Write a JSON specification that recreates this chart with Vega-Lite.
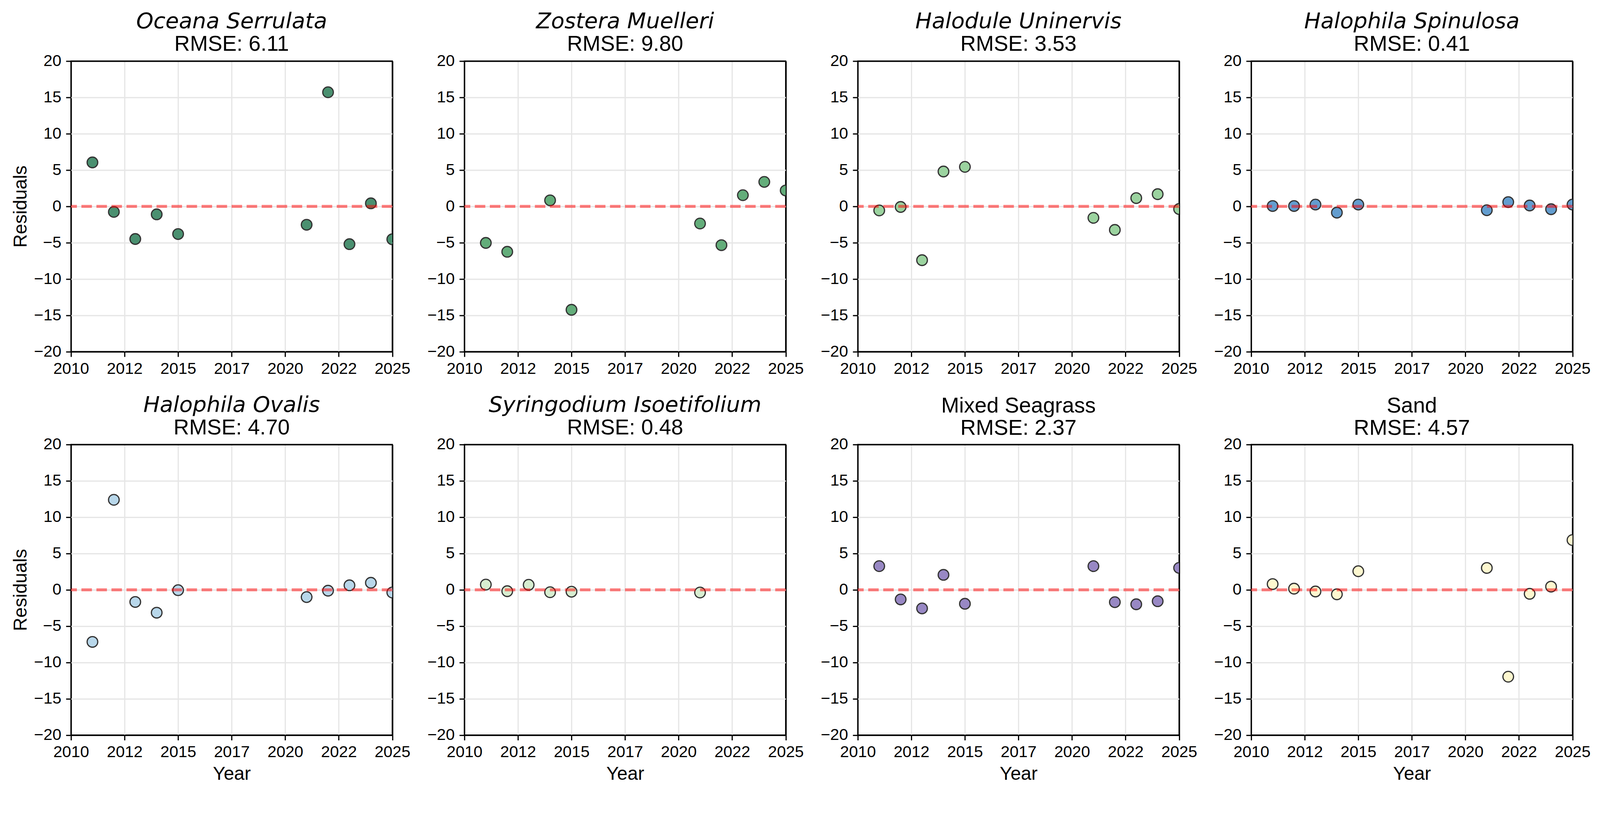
{
  "$schema": "https://vega.github.io/schema/vega-lite/v6.json",
  "background": "white",
  "padding": {"left": 26.8, "top": 25.4, "right": 10, "bottom": 10},
  "config": {
    "view": {"stroke": "black", "strokeWidth": 3.1},
    "axis": {"domain": false, "grid": true, "gridWidth": 3.1, "ticks": true, "tickColor": "black", "tickWidth": 3.1, "tickSize": 13, "labelFont": "Liberation Sans", "labelFontSize": 41.3, "labelColor": "black", "titleFont": "Liberation Sans", "titleFontSize": 48, "titleFontWeight": "normal", "titleColor": "black", "labelFlush": false, "labelOverlap": false, "labelBound": false},
    "axisX": {"labelPadding": 10.3, "titlePadding": 11.6, "gridColor": {"condition": {"test": "datum.value === 2010 || datum.value === 2025", "value": "black"}, "value": "#e6e6e6"}},
    "axisY": {"labelPadding": 12.2, "titlePadding": 9.3, "gridColor": {"condition": {"test": "datum.value === 20 || datum.value === -20", "value": "black"}, "value": "#e6e6e6"}},
    "title": {"font": "DejaVu Sans", "fontStyle": "italic", "fontSize": 56, "fontWeight": "normal", "color": "black", "subtitleFont": "Liberation Sans", "subtitleFontSize": 55.2, "subtitleFontStyle": "normal", "subtitleFontWeight": "normal", "subtitleColor": "black", "offset": -7.25, "subtitlePadding": 2.1, "anchor": "middle", "frame": "group"}
  },
  "data": {"values": [
    {"panel": "Oceana Serrulata", "year": 2011, "residual": 6.05},
    {"panel": "Oceana Serrulata", "year": 2012, "residual": -0.76},
    {"panel": "Oceana Serrulata", "year": 2013, "residual": -4.49},
    {"panel": "Oceana Serrulata", "year": 2014, "residual": -1.10},
    {"panel": "Oceana Serrulata", "year": 2015, "residual": -3.81},
    {"panel": "Oceana Serrulata", "year": 2021, "residual": -2.53},
    {"panel": "Oceana Serrulata", "year": 2022, "residual": 15.71},
    {"panel": "Oceana Serrulata", "year": 2023, "residual": -5.20},
    {"panel": "Oceana Serrulata", "year": 2024, "residual": 0.42},
    {"panel": "Oceana Serrulata", "year": 2025, "residual": -4.53},
    {"panel": "Zostera Muelleri", "year": 2011, "residual": -5.03},
    {"panel": "Zostera Muelleri", "year": 2012, "residual": -6.25},
    {"panel": "Zostera Muelleri", "year": 2014, "residual": 0.83},
    {"panel": "Zostera Muelleri", "year": 2015, "residual": -14.24},
    {"panel": "Zostera Muelleri", "year": 2021, "residual": -2.36},
    {"panel": "Zostera Muelleri", "year": 2022, "residual": -5.34},
    {"panel": "Zostera Muelleri", "year": 2023, "residual": 1.54},
    {"panel": "Zostera Muelleri", "year": 2024, "residual": 3.37},
    {"panel": "Zostera Muelleri", "year": 2025, "residual": 2.19},
    {"panel": "Halodule Uninervis", "year": 2011, "residual": -0.56},
    {"panel": "Halodule Uninervis", "year": 2012, "residual": -0.08},
    {"panel": "Halodule Uninervis", "year": 2013, "residual": -7.41},
    {"panel": "Halodule Uninervis", "year": 2014, "residual": 4.80},
    {"panel": "Halodule Uninervis", "year": 2015, "residual": 5.44},
    {"panel": "Halodule Uninervis", "year": 2021, "residual": -1.58},
    {"panel": "Halodule Uninervis", "year": 2022, "residual": -3.24},
    {"panel": "Halodule Uninervis", "year": 2023, "residual": 1.14},
    {"panel": "Halodule Uninervis", "year": 2024, "residual": 1.68},
    {"panel": "Halodule Uninervis", "year": 2025, "residual": -0.36},
    {"panel": "Halophila Spinulosa", "year": 2011, "residual": 0.05},
    {"panel": "Halophila Spinulosa", "year": 2012, "residual": 0.05},
    {"panel": "Halophila Spinulosa", "year": 2013, "residual": 0.25},
    {"panel": "Halophila Spinulosa", "year": 2014, "residual": -0.86},
    {"panel": "Halophila Spinulosa", "year": 2015, "residual": 0.25},
    {"panel": "Halophila Spinulosa", "year": 2021, "residual": -0.53},
    {"panel": "Halophila Spinulosa", "year": 2022, "residual": 0.59},
    {"panel": "Halophila Spinulosa", "year": 2023, "residual": 0.12},
    {"panel": "Halophila Spinulosa", "year": 2024, "residual": -0.39},
    {"panel": "Halophila Spinulosa", "year": 2025, "residual": 0.25},
    {"panel": "Halophila Ovalis", "year": 2011, "residual": -7.17},
    {"panel": "Halophila Ovalis", "year": 2012, "residual": 12.39},
    {"panel": "Halophila Ovalis", "year": 2013, "residual": -1.67},
    {"panel": "Halophila Ovalis", "year": 2014, "residual": -3.15},
    {"panel": "Halophila Ovalis", "year": 2015, "residual": -0.05},
    {"panel": "Halophila Ovalis", "year": 2021, "residual": -1.00},
    {"panel": "Halophila Ovalis", "year": 2022, "residual": -0.12},
    {"panel": "Halophila Ovalis", "year": 2023, "residual": 0.62},
    {"panel": "Halophila Ovalis", "year": 2024, "residual": 0.97},
    {"panel": "Halophila Ovalis", "year": 2025, "residual": -0.37},
    {"panel": "Syringodium Isoetifolium", "year": 2011, "residual": 0.72},
    {"panel": "Syringodium Isoetifolium", "year": 2012, "residual": -0.19},
    {"panel": "Syringodium Isoetifolium", "year": 2013, "residual": 0.69},
    {"panel": "Syringodium Isoetifolium", "year": 2014, "residual": -0.33},
    {"panel": "Syringodium Isoetifolium", "year": 2015, "residual": -0.26},
    {"panel": "Syringodium Isoetifolium", "year": 2021, "residual": -0.37},
    {"panel": "Mixed Seagrass", "year": 2011, "residual": 3.26},
    {"panel": "Mixed Seagrass", "year": 2012, "residual": -1.32},
    {"panel": "Mixed Seagrass", "year": 2013, "residual": -2.56},
    {"panel": "Mixed Seagrass", "year": 2014, "residual": 2.06},
    {"panel": "Mixed Seagrass", "year": 2015, "residual": -1.92},
    {"panel": "Mixed Seagrass", "year": 2021, "residual": 3.26},
    {"panel": "Mixed Seagrass", "year": 2022, "residual": -1.70},
    {"panel": "Mixed Seagrass", "year": 2023, "residual": -1.99},
    {"panel": "Mixed Seagrass", "year": 2024, "residual": -1.57},
    {"panel": "Mixed Seagrass", "year": 2025, "residual": 3.02},
    {"panel": "Sand", "year": 2011, "residual": 0.79},
    {"panel": "Sand", "year": 2012, "residual": 0.16},
    {"panel": "Sand", "year": 2013, "residual": -0.23},
    {"panel": "Sand", "year": 2014, "residual": -0.62},
    {"panel": "Sand", "year": 2015, "residual": 2.56},
    {"panel": "Sand", "year": 2021, "residual": 3.01},
    {"panel": "Sand", "year": 2022, "residual": -11.96},
    {"panel": "Sand", "year": 2023, "residual": -0.55},
    {"panel": "Sand", "year": 2024, "residual": 0.44},
    {"panel": "Sand", "year": 2025, "residual": 6.85}
  ]},
  "columns": 4,
  "bounds": "flush",
  "spacing": {"row": 237.5, "column": 184.1},
  "concat": [
    {
      "title": {"text": "Oceana Serrulata", "subtitle": "RMSE: 6.11"},
      "width": 822.5, "height": 743.7,
      "layer": [
        {"transform": [{"filter": "datum.panel === 'Oceana Serrulata'"}],
         "mark": {"type": "point", "shape": "circle", "filled": true, "size": 740, "fill": "#4a9070", "stroke": "#333333", "strokeWidth": 3.1, "opacity": 1, "fillOpacity": 1, "strokeOpacity": 1, "clip": true},
         "encoding": {
           "x": {"field": "year", "type": "quantitative", "scale": {"domain": [2010, 2025], "nice": false, "zero": false}, "axis": {"values": [2010, 2012.5, 2015, 2017.5, 2020, 2022.5, 2025], "labelExpr": "'' + floor(datum.value)", "title": null}},
           "y": {"field": "residual", "type": "quantitative", "scale": {"domain": [-20, 20], "nice": false}, "axis": {"values": [-20, -15, -10, -5, 0, 5, 10, 15, 20], "title": "Residuals"}}
         }},
        {"data": {"values": [{}]}, "mark": {"type": "rule", "color": "#ff0000", "opacity": 0.5, "strokeWidth": 7.5, "strokeDash": [26.9, 11.55], "strokeCap": "butt"}, "encoding": {"y": {"datum": 0}}}
      ]
    },
    {
      "title": {"text": "Zostera Muelleri", "subtitle": "RMSE: 9.80"},
      "width": 822.5, "height": 743.7,
      "layer": [
        {"transform": [{"filter": "datum.panel === 'Zostera Muelleri'"}],
         "mark": {"type": "point", "shape": "circle", "filled": true, "size": 740, "fill": "#63ad7a", "stroke": "#333333", "strokeWidth": 3.1, "opacity": 1, "fillOpacity": 1, "strokeOpacity": 1, "clip": true},
         "encoding": {
           "x": {"field": "year", "type": "quantitative", "scale": {"domain": [2010, 2025], "nice": false, "zero": false}, "axis": {"values": [2010, 2012.5, 2015, 2017.5, 2020, 2022.5, 2025], "labelExpr": "'' + floor(datum.value)", "title": null}},
           "y": {"field": "residual", "type": "quantitative", "scale": {"domain": [-20, 20], "nice": false}, "axis": {"values": [-20, -15, -10, -5, 0, 5, 10, 15, 20], "title": null}}
         }},
        {"data": {"values": [{}]}, "mark": {"type": "rule", "color": "#ff0000", "opacity": 0.5, "strokeWidth": 7.5, "strokeDash": [26.9, 11.55], "strokeCap": "butt"}, "encoding": {"y": {"datum": 0}}}
      ]
    },
    {
      "title": {"text": "Halodule Uninervis", "subtitle": "RMSE: 3.53"},
      "width": 822.5, "height": 743.7,
      "layer": [
        {"transform": [{"filter": "datum.panel === 'Halodule Uninervis'"}],
         "mark": {"type": "point", "shape": "circle", "filled": true, "size": 740, "fill": "#9bd39f", "stroke": "#333333", "strokeWidth": 3.1, "opacity": 1, "fillOpacity": 1, "strokeOpacity": 1, "clip": true},
         "encoding": {
           "x": {"field": "year", "type": "quantitative", "scale": {"domain": [2010, 2025], "nice": false, "zero": false}, "axis": {"values": [2010, 2012.5, 2015, 2017.5, 2020, 2022.5, 2025], "labelExpr": "'' + floor(datum.value)", "title": null}},
           "y": {"field": "residual", "type": "quantitative", "scale": {"domain": [-20, 20], "nice": false}, "axis": {"values": [-20, -15, -10, -5, 0, 5, 10, 15, 20], "title": null}}
         }},
        {"data": {"values": [{}]}, "mark": {"type": "rule", "color": "#ff0000", "opacity": 0.5, "strokeWidth": 7.5, "strokeDash": [26.9, 11.55], "strokeCap": "butt"}, "encoding": {"y": {"datum": 0}}}
      ]
    },
    {
      "title": {"text": "Halophila Spinulosa", "subtitle": "RMSE: 0.41"},
      "width": 822.5, "height": 743.7,
      "layer": [
        {"transform": [{"filter": "datum.panel === 'Halophila Spinulosa'"}],
         "mark": {"type": "point", "shape": "circle", "filled": true, "size": 740, "fill": "#639dcf", "stroke": "#333333", "strokeWidth": 3.1, "opacity": 1, "fillOpacity": 1, "strokeOpacity": 1, "clip": true},
         "encoding": {
           "x": {"field": "year", "type": "quantitative", "scale": {"domain": [2010, 2025], "nice": false, "zero": false}, "axis": {"values": [2010, 2012.5, 2015, 2017.5, 2020, 2022.5, 2025], "labelExpr": "'' + floor(datum.value)", "title": null}},
           "y": {"field": "residual", "type": "quantitative", "scale": {"domain": [-20, 20], "nice": false}, "axis": {"values": [-20, -15, -10, -5, 0, 5, 10, 15, 20], "title": null}}
         }},
        {"data": {"values": [{}]}, "mark": {"type": "rule", "color": "#ff0000", "opacity": 0.5, "strokeWidth": 7.5, "strokeDash": [26.9, 11.55], "strokeCap": "butt"}, "encoding": {"y": {"datum": 0}}}
      ]
    },
    {
      "title": {"text": "Halophila Ovalis", "subtitle": "RMSE: 4.70"},
      "width": 822.5, "height": 743.7,
      "layer": [
        {"transform": [{"filter": "datum.panel === 'Halophila Ovalis'"}],
         "mark": {"type": "point", "shape": "circle", "filled": true, "size": 740, "fill": "#b8d7ea", "stroke": "#333333", "strokeWidth": 3.1, "opacity": 1, "fillOpacity": 1, "strokeOpacity": 1, "clip": true},
         "encoding": {
           "x": {"field": "year", "type": "quantitative", "scale": {"domain": [2010, 2025], "nice": false, "zero": false}, "axis": {"values": [2010, 2012.5, 2015, 2017.5, 2020, 2022.5, 2025], "labelExpr": "'' + floor(datum.value)", "title": "Year"}},
           "y": {"field": "residual", "type": "quantitative", "scale": {"domain": [-20, 20], "nice": false}, "axis": {"values": [-20, -15, -10, -5, 0, 5, 10, 15, 20], "title": "Residuals"}}
         }},
        {"data": {"values": [{}]}, "mark": {"type": "rule", "color": "#ff0000", "opacity": 0.5, "strokeWidth": 7.5, "strokeDash": [26.9, 11.55], "strokeCap": "butt"}, "encoding": {"y": {"datum": 0}}}
      ]
    },
    {
      "title": {"text": "Syringodium Isoetifolium", "subtitle": "RMSE: 0.48"},
      "width": 822.5, "height": 743.7,
      "layer": [
        {"transform": [{"filter": "datum.panel === 'Syringodium Isoetifolium'"}],
         "mark": {"type": "point", "shape": "circle", "filled": true, "size": 740, "fill": "#d7edd0", "stroke": "#333333", "strokeWidth": 3.1, "opacity": 1, "fillOpacity": 1, "strokeOpacity": 1, "clip": true},
         "encoding": {
           "x": {"field": "year", "type": "quantitative", "scale": {"domain": [2010, 2025], "nice": false, "zero": false}, "axis": {"values": [2010, 2012.5, 2015, 2017.5, 2020, 2022.5, 2025], "labelExpr": "'' + floor(datum.value)", "title": "Year"}},
           "y": {"field": "residual", "type": "quantitative", "scale": {"domain": [-20, 20], "nice": false}, "axis": {"values": [-20, -15, -10, -5, 0, 5, 10, 15, 20], "title": null}}
         }},
        {"data": {"values": [{}]}, "mark": {"type": "rule", "color": "#ff0000", "opacity": 0.5, "strokeWidth": 7.5, "strokeDash": [26.9, 11.55], "strokeCap": "butt"}, "encoding": {"y": {"datum": 0}}}
      ]
    },
    {
      "title": {"text": "Mixed Seagrass", "subtitle": "RMSE: 2.37", "font": "Liberation Sans", "fontStyle": "normal", "fontSize": 55.2},
      "width": 822.5, "height": 743.7,
      "layer": [
        {"transform": [{"filter": "datum.panel === 'Mixed Seagrass'"}],
         "mark": {"type": "point", "shape": "circle", "filled": true, "size": 740, "fill": "#9888c4", "stroke": "#333333", "strokeWidth": 3.1, "opacity": 1, "fillOpacity": 1, "strokeOpacity": 1, "clip": true},
         "encoding": {
           "x": {"field": "year", "type": "quantitative", "scale": {"domain": [2010, 2025], "nice": false, "zero": false}, "axis": {"values": [2010, 2012.5, 2015, 2017.5, 2020, 2022.5, 2025], "labelExpr": "'' + floor(datum.value)", "title": "Year"}},
           "y": {"field": "residual", "type": "quantitative", "scale": {"domain": [-20, 20], "nice": false}, "axis": {"values": [-20, -15, -10, -5, 0, 5, 10, 15, 20], "title": null}}
         }},
        {"data": {"values": [{}]}, "mark": {"type": "rule", "color": "#ff0000", "opacity": 0.5, "strokeWidth": 7.5, "strokeDash": [26.9, 11.55], "strokeCap": "butt"}, "encoding": {"y": {"datum": 0}}}
      ]
    },
    {
      "title": {"text": "Sand", "subtitle": "RMSE: 4.57", "font": "Liberation Sans", "fontStyle": "normal", "fontSize": 55.2},
      "width": 822.5, "height": 743.7,
      "layer": [
        {"transform": [{"filter": "datum.panel === 'Sand'"}],
         "mark": {"type": "point", "shape": "circle", "filled": true, "size": 740, "fill": "#fdf7cf", "stroke": "#333333", "strokeWidth": 3.1, "opacity": 1, "fillOpacity": 1, "strokeOpacity": 1, "clip": true},
         "encoding": {
           "x": {"field": "year", "type": "quantitative", "scale": {"domain": [2010, 2025], "nice": false, "zero": false}, "axis": {"values": [2010, 2012.5, 2015, 2017.5, 2020, 2022.5, 2025], "labelExpr": "'' + floor(datum.value)", "title": "Year"}},
           "y": {"field": "residual", "type": "quantitative", "scale": {"domain": [-20, 20], "nice": false}, "axis": {"values": [-20, -15, -10, -5, 0, 5, 10, 15, 20], "title": null}}
         }},
        {"data": {"values": [{}]}, "mark": {"type": "rule", "color": "#ff0000", "opacity": 0.5, "strokeWidth": 7.5, "strokeDash": [26.9, 11.55], "strokeCap": "butt"}, "encoding": {"y": {"datum": 0}}}
      ]
    }
  ]
}
